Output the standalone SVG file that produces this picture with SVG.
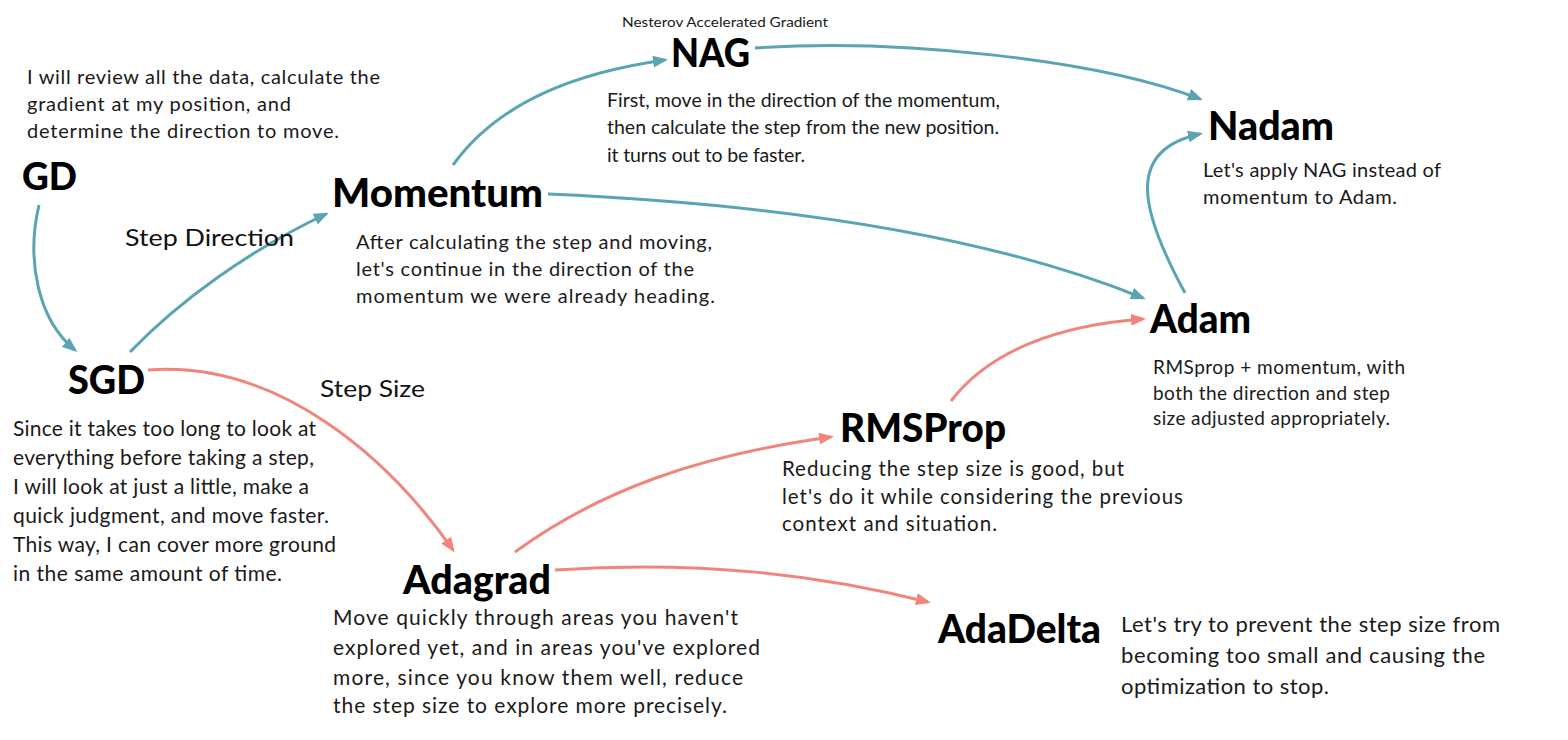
<svg xmlns="http://www.w3.org/2000/svg" width="1568" height="740" viewBox="0 0 1568 740">
<style>
.t{font-family:Lato,"Open Sans",sans-serif;font-weight:900;fill:#000}
.d{font-family:Lato,"Open Sans",sans-serif;fill:#1a1a1a}
.lbl{font-family:Lato,"Open Sans",sans-serif;fill:#111}
.c{fill:none;stroke-width:3;stroke-linecap:butt}
.b{stroke:#5ba4b4}
.r{stroke:#f0857c}
</style>
<defs>
<marker id="ab" markerUnits="userSpaceOnUse" markerWidth="16" markerHeight="14" refX="12" refY="6" orient="auto"><path d="M0,0 L15,6 L0,12 z" fill="#5ba4b4"/></marker>
<marker id="ar" markerUnits="userSpaceOnUse" markerWidth="16" markerHeight="14" refX="12" refY="6" orient="auto"><path d="M0,0 L15,6 L0,12 z" fill="#f0857c"/></marker>
</defs>
<rect width="1568" height="740" fill="#fff"/>
<g id="connectors">
<path class="c b" marker-end="url(#ab)" d="M39,205 C26,260 38,320 75,350"/>
<path class="c b" marker-end="url(#ab)" d="M130,352 C180,300 250,250 326,214"/>
<path class="c r" marker-end="url(#ar)" d="M148,370 C280,360 390,460 453,550"/>
<path class="c b" marker-end="url(#ab)" d="M453,165 C500,100 580,72 665,60"/>
<path class="c b" marker-end="url(#ab)" d="M755,48 C900,38 1100,60 1200,99"/>
<path class="c b" marker-end="url(#ab)" d="M548,194 C800,205 1000,240 1143,298"/>
<path class="c b" marker-end="url(#ab)" d="M1185,293 C1140,210 1125,150 1200,134"/>
<path class="c r" marker-end="url(#ar)" d="M515,552 C600,490 700,455 831,437"/>
<path class="c r" marker-end="url(#ar)" d="M951,401 C990,350 1060,325 1143,319"/>
<path class="c r" marker-end="url(#ar)" d="M555,570 C700,560 820,575 928,602"/>
</g>
<g id="labels">
<text class="lbl" x="125" y="246" font-size="23" textLength="169" lengthAdjust="spacingAndGlyphs">Step Direction</text>
<text class="lbl" x="320" y="397" font-size="23" textLength="105" lengthAdjust="spacingAndGlyphs">Step Size</text>
</g>
<g id="GD">
<text class="t" x="22" y="190" font-size="38" textLength="55" lengthAdjust="spacingAndGlyphs">GD</text>
<text class="d" font-size="20" lengthAdjust="spacingAndGlyphs"><tspan x="27" y="84" textLength="353">I will review all the data, calculate the</tspan><tspan x="27" y="111" textLength="264">gradient at my position, and</tspan><tspan x="27" y="138" textLength="312">determine the direction to move.</tspan></text>
</g>
<g id="SGD">
<text class="t" x="68" y="394" font-size="39" textLength="77" lengthAdjust="spacingAndGlyphs">SGD</text>
<text class="d" font-size="21" lengthAdjust="spacingAndGlyphs"><tspan x="13" y="436" textLength="303">Since it takes too long to look at</tspan><tspan x="13" y="465" textLength="301">everything before taking a step,</tspan><tspan x="13" y="494" textLength="296">I will look at just a little, make a</tspan><tspan x="13" y="523" textLength="316">quick judgment, and move faster.</tspan><tspan x="13" y="552" textLength="323">This way, I can cover more ground</tspan><tspan x="13" y="581" textLength="269">in the same amount of time.</tspan></text>
</g>
<g id="Momentum">
<text class="t" x="332" y="207" font-size="39" textLength="211" lengthAdjust="spacingAndGlyphs">Momentum</text>
<text class="d" font-size="20" lengthAdjust="spacingAndGlyphs"><tspan x="356" y="249" textLength="356">After calculating the step and moving,</tspan><tspan x="356" y="276" textLength="338">let's continue in the direction of the</tspan><tspan x="356" y="303" textLength="359">momentum we were already heading.</tspan></text>
</g>
<g id="NAG">
<text class="d" x="622" y="27" font-size="14" textLength="206" lengthAdjust="spacingAndGlyphs" fill="#000">Nesterov Accelerated Gradient</text>
<text class="t" x="671" y="67" font-size="40" textLength="79" lengthAdjust="spacingAndGlyphs">NAG</text>
<text class="d" font-size="19.5" lengthAdjust="spacingAndGlyphs"><tspan x="607" y="107" textLength="393">First, move in the direction of the momentum,</tspan><tspan x="607" y="134" textLength="392">then calculate the step from the new position.</tspan><tspan x="607" y="162" textLength="198">it turns out to be faster.</tspan></text>
</g>
<g id="Nadam">
<text class="t" x="1208" y="140" font-size="39" textLength="126" lengthAdjust="spacingAndGlyphs">Nadam</text>
<text class="d" font-size="20" lengthAdjust="spacingAndGlyphs"><tspan x="1203" y="177" textLength="238">Let's apply NAG instead of</tspan><tspan x="1203" y="204" textLength="194">momentum to Adam.</tspan></text>
</g>
<g id="Adam">
<text class="t" x="1150" y="333" font-size="39" textLength="101" lengthAdjust="spacingAndGlyphs">Adam</text>
<text class="d" font-size="19" lengthAdjust="spacingAndGlyphs"><tspan x="1153" y="374" textLength="252">RMSprop + momentum, with</tspan><tspan x="1153" y="400" textLength="237">both the direction and step</tspan><tspan x="1153" y="425" textLength="237">size adjusted appropriately.</tspan></text>
</g>
<g id="RMSProp">
<text class="t" x="840" y="442" font-size="39" textLength="166" lengthAdjust="spacingAndGlyphs">RMSProp</text>
<text class="d" font-size="20.5" lengthAdjust="spacingAndGlyphs"><tspan x="782" y="476" textLength="342">Reducing the step size is good, but</tspan><tspan x="782" y="504" textLength="401">let's do it while considering the previous</tspan><tspan x="782" y="531" textLength="215">context and situation.</tspan></text>
</g>
<g id="Adagrad">
<text class="t" x="403" y="594" font-size="39" textLength="148" lengthAdjust="spacingAndGlyphs">Adagrad</text>
<text class="d" font-size="21" lengthAdjust="spacingAndGlyphs"><tspan x="333" y="625" textLength="405">Move quickly through areas you haven't</tspan><tspan x="333" y="655" textLength="427">explored yet, and in areas you've explored</tspan><tspan x="333" y="685" textLength="410">more, since you know them well, reduce</tspan><tspan x="333" y="713" textLength="394">the step size to explore more precisely.</tspan></text>
</g>
<g id="AdaDelta">
<text class="t" x="938" y="643" font-size="39" textLength="163" lengthAdjust="spacingAndGlyphs">AdaDelta</text>
<text class="d" font-size="22" lengthAdjust="spacingAndGlyphs"><tspan x="1121" y="632" textLength="379">Let's try to prevent the step size from</tspan><tspan x="1121" y="663" textLength="364">becoming too small and causing the</tspan><tspan x="1121" y="694" textLength="208">optimization to stop.</tspan></text>
</g>
</svg>
